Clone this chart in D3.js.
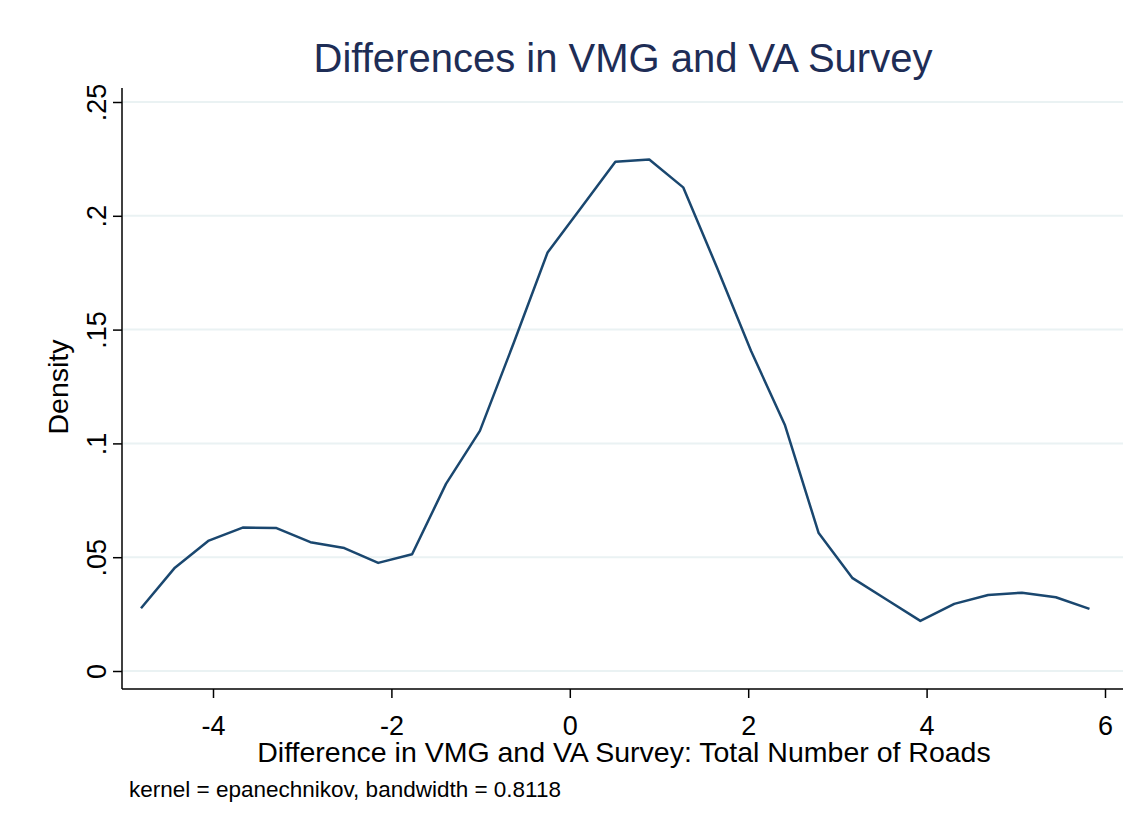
<!DOCTYPE html>
<html>
<head>
<meta charset="utf-8" />
<title>Differences in VMG and VA Survey</title>
<script src="https://d3js.org/d3.v7.min.js"></script>
<style>
  body { margin: 0; background: #fff; }
  text { font-family: "Liberation Sans", Arial, sans-serif; }
</style>
</head>
<body>
<svg id="chart" width="1145" height="832"></svg>
<script>
// kernel density estimate points (x = difference, y = density)
var xVals = [-4.807, -4.427, -4.047, -3.667, -3.288, -2.908, -2.528, -2.148, -1.768, -1.388,
             -1.008, -0.628, -0.249, 0.131, 0.511, 0.891, 1.271, 1.651, 2.031, 2.410,
             2.790, 3.170, 3.550, 3.930, 4.310, 4.690, 5.069, 5.449, 5.826];
var density = [0.0276, 0.0454, 0.0573, 0.0630, 0.0628, 0.0566, 0.0540, 0.0475, 0.0513, 0.0822,
               0.1055, 0.1442, 0.1839, 0.2038, 0.2238, 0.2247, 0.2125, 0.1772, 0.1407, 0.1082,
               0.0606, 0.0408, 0.0314, 0.0220, 0.0295, 0.0334, 0.0344, 0.0324, 0.0273];
var xTicks = [-4, -2, 0, 2, 4, 6];
var yTicks = [0, 0.05, 0.1, 0.15, 0.2, 0.25];
var yTickLabels = ["0", ".05", ".1", ".15", ".2", ".25"];

var svg = d3.select("#chart");

var x = d3.scaleLinear().domain([-4, 6]).range([213, 1105]);
var y = d3.scaleLinear().domain([0, 0.25]).range([671, 102]);

// gridlines
svg.append("g").selectAll("line")
  .data(yTicks)
  .enter().append("line")
  .attr("x1", 123).attr("x2", 1123)
  .attr("y1", function(d){ return y(d); })
  .attr("y2", function(d){ return y(d); })
  .attr("stroke", "#eaf2f3")
  .attr("stroke-width", 2);

// y axis
var yAxis = d3.axisLeft(y)
  .tickValues(yTicks)
  .tickSize(9)
  .tickFormat(function(d, i){ return yTickLabels[i]; });

var gy = svg.append("g").attr("transform", "translate(122,0)").call(yAxis);
gy.select(".domain").attr("d", "M0,88V689").attr("stroke", "#000").attr("stroke-width", 1.5);
gy.selectAll(".tick line").attr("stroke", "#000").attr("stroke-width", 1.5);
gy.selectAll(".tick text")
  .attr("font-size", 27)
  .attr("fill", "#000")
  .attr("text-anchor", "middle")
  .attr("transform", "rotate(-90)")
  .attr("x", 0)
  .attr("dy", 0)
  .attr("y", -16);

// x axis
var xAxis = d3.axisBottom(x)
  .tickValues(xTicks)
  .tickSize(9)
  .tickFormat(d3.format("d"));

var gx = svg.append("g").attr("transform", "translate(0,689)").call(xAxis);
gx.select(".domain").attr("d", "M122,0H1123").attr("stroke", "#000").attr("stroke-width", 1.5);
gx.selectAll(".tick line").attr("stroke", "#000").attr("stroke-width", 1.5);
gx.selectAll(".tick text").attr("font-size", 27).attr("fill", "#000")
  .attr("y", 46).attr("dy", 0)
  .text(function(d){ return d < 0 ? "-" + Math.abs(d) : d; });

// density line
var line = d3.line()
  .x(function(d, i){ return x(xVals[i]); })
  .y(function(d){ return y(d); });

svg.append("path")
  .datum(density)
  .attr("d", line)
  .attr("fill", "none")
  .attr("stroke", "#1a476f")
  .attr("stroke-width", 2.5)
  .attr("stroke-linejoin", "round");

// titles
svg.append("text")
  .attr("x", 623).attr("y", 72)
  .attr("text-anchor", "middle")
  .attr("font-size", 40)
  .attr("fill", "#1e2d56")
  .text("Differences in VMG and VA Survey");

svg.append("text")
  .attr("x", 624).attr("y", 762)
  .attr("text-anchor", "middle")
  .attr("font-size", 28.5)
  .attr("fill", "#000")
  .text("Difference in VMG and VA Survey: Total Number of Roads");

svg.append("text")
  .attr("transform", "translate(68,387) rotate(-90)")
  .attr("text-anchor", "middle")
  .attr("font-size", 28.5)
  .attr("fill", "#000")
  .text("Density");

svg.append("text")
  .attr("x", 129).attr("y", 797)
  .attr("font-size", 22.5)
  .attr("fill", "#000")
  .text("kernel = epanechnikov, bandwidth = 0.8118");
</script>
</body>
</html>
